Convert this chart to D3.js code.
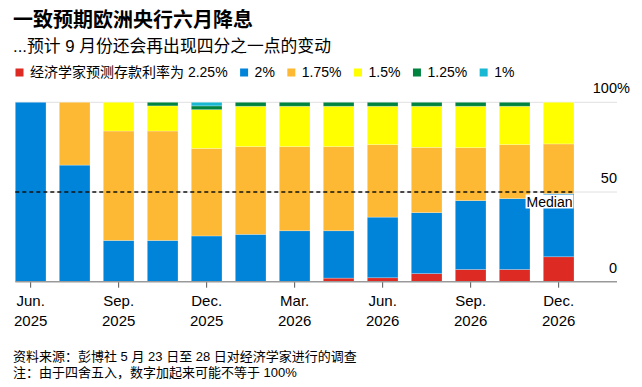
<!DOCTYPE html>
<html>
<head>
<meta charset="utf-8">
<script src="https://cdn.jsdelivr.net/npm/d3@7"></script>
<style>
  body { margin: 0; background: #fff; }
  svg text { font-family: "Liberation Sans", "Noto Sans CJK SC", sans-serif; fill: #000; }
</style>
</head>
<body>
<svg width="642" height="387"></svg>
<script>
// ECB meetings covered by the survey
const meetings = ["Jun 2025", "Jul 2025", "Sep 2025", "Oct 2025", "Dec 2025", "Feb 2026", "Mar 2026",
    "Apr 2026", "Jun 2026", "Jul 2026", "Sep 2026", "Oct 2026", "Dec 2026"];

// share of economists (%) expecting each deposit rate, one array per rate
const rate225 = [0, 0, 0, 0, 0, 0, 0, 2, 2.2, 4.5, 6.8, 6.8, 13.9];
const rate200 = [100, 65, 23, 23, 25.5, 26.4, 28.4, 26.4, 33.8, 34, 38.4, 39.5, 35.2];
const rate175 = [0, 35, 61, 61, 48.8, 48.9, 46.9, 46.9, 40.4, 36.4, 29.5, 30.1, 27.7];
const rate150 = [0, 0, 16, 14, 21.6, 22.5, 22.5, 22.5, 21.4, 22.9, 23.1, 21.4, 23.2];
const rate125 = [0, 0, 0, 2, 2.1, 2.2, 2.2, 2.2, 2.2, 2.2, 2.2, 2.2, 0];
const rate100 = [0, 0, 0, 0, 2, 0, 0, 0, 0, 0, 0, 0, 0];

const rateKeys = ["2.25%", "2%", "1.75%", "1.5%", "1.25%", "1%"];
const legendLabels = ["经济学家预测存款利率为 2.25%", "2%", "1.75%", "1.5%", "1.25%", "1%"];
const colors = ["#dd2a22", "#0084d9", "#fdb933", "#ffff00", "#00833f", "#19b8d2"];

const tickMeetings = ["Jun 2025", "Sep 2025", "Dec 2025", "Mar 2026", "Jun 2026", "Sep 2026", "Dec 2026"];
const tickMonths = ["Jun.", "Sep.", "Dec.", "Mar.", "Jun.", "Sep.", "Dec."];
const tickYears = ["2025", "2025", "2025", "2026", "2026", "2026", "2026"];
const yTicks = [0, 50, 100];
const median = 50;

const title = "一致预期欧洲央行六月降息";
const subtitle = "...预计 9 月份还会再出现四分之一点的变动";
const notes = ["资料来源：彭博社 5 月 23 日至 28 日对经济学家进行的调查",
    "注：由于四舍五入，数字加起来可能不等于 100%"];

const svg = d3.select("svg");

// build the table for d3.stack
const series = [rate225, rate200, rate175, rate150, rate125, rate100];
const table = meetings.map((m, i) => {
    const row = { meeting: m };
    rateKeys.forEach((k, j) => { row[k] = series[j][i]; });
    return row;
});
const stacked = d3.stack().keys(rateKeys)(table);

const left = 15.3, right = 617;
const x = d3.scaleBand()
    .domain(meetings)
    .range([left, 574])
    .paddingInner(0.302)
    .paddingOuter(0);

const y = d3.scaleLinear()
    .domain([0, 100])
    .range([281.7, 102.3]);

const color = d3.scaleOrdinal().domain(rateKeys).range(colors);

// Titles
svg.append("text")
    .attr("x", 13).attr("y", 26.5)
    .style("font-size", "20px").style("font-weight", "bold")
    .text(title);

svg.append("text")
    .attr("x", 13).attr("y", 52)
    .style("font-size", "16.8px")
    .text(subtitle);

// Legend, laid out by measured text widths
const legend = svg.append("g").attr("transform", "translate(15.5,0)");
let lx = 0;
legendLabels.forEach((label, i) => {
    const g = legend.append("g").attr("transform", `translate(${lx},0)`);
    g.append("rect")
        .attr("x", 0).attr("y", 68.5)
        .attr("width", 8).attr("height", 8)
        .attr("fill", colors[i]);
    const t = g.append("text")
        .attr("x", 14.5).attr("y", 77)
        .style("font-size", "14px")
        .text(label);
    lx += 14.5 + t.node().getComputedTextLength() + 12.5;
});

// Gridlines and right axis labels
svg.append("g")
    .selectAll("line")
    .data(yTicks.filter(d => d > 0))
    .join("line")
    .attr("x1", left).attr("x2", right)
    .attr("y1", d => y(d)).attr("y2", d => y(d))
    .attr("stroke", "#e0e0e0").attr("stroke-width", 1);

const yLab = svg.append("g")
    .selectAll("text")
    .data(yTicks)
    .join("text")
    .attr("x", right).attr("y", d => y(d) - 9)
    .attr("text-anchor", "end")
    .style("font-size", "14.5px")
    .text(d => d);

svg.append("text")
    .attr("x", right).attr("y", y(100) - 9)
    .style("font-size", "14.5px")
    .text("%");

// Stacked bars
svg.append("g")
    .selectAll("g")
    .data(stacked)
    .join("g")
    .attr("fill", d => color(d.key))
    .selectAll("rect")
    .data(d => d.filter(p => p[1] - p[0] > 0))
    .join("rect")
    .attr("x", d => x(d.data.meeting))
    .attr("width", x.bandwidth())
    .attr("y", d => y(d[1]))
    .attr("height", d => y(d[0]) - y(d[1]))
    .attr("stroke", "#ffffff")
    .attr("stroke-opacity", 0.35)
    .attr("stroke-width", 0.7);

// Bottom axis
const xAxis = svg.append("g")
    .attr("transform", `translate(0,${y(0)})`)
    .call(d3.axisBottom(x).tickValues(tickMeetings).tickSize(6).tickSizeOuter(0).tickFormat(""));

xAxis.select(".domain").remove();
xAxis.selectAll(".tick line").attr("stroke", "#555");
xAxis.append("line")
    .attr("x1", left).attr("x2", right)
    .attr("stroke", "#999").attr("stroke-width", 1.5);

xAxis.selectAll(".tick").each(function(d, i) {
    const t = d3.select(this).append("text")
        .attr("text-anchor", "middle")
        .style("font-size", "15px")
        .attr("fill", "#000");
    t.append("tspan").attr("x", 0).attr("y", 24.5).text(tickMonths[i]);
    t.append("tspan").attr("x", 0).attr("y", 44.5).text(tickYears[i]);
});

// Median line and label
svg.append("line")
    .attr("x1", left).attr("x2", x.range()[1] - 1)
    .attr("y1", y(median)).attr("y2", y(median))
    .attr("stroke", "#111").attr("stroke-width", 1.5)
    .attr("stroke-dasharray", "4,3");

const medG = svg.append("g");
const medBg = medG.append("rect").attr("fill", "#fff");
const medText = medG.append("text")
    .attr("x", x.range()[1] - 1.5).attr("y", 206.5)
    .attr("text-anchor", "end")
    .style("font-size", "14px")
    .text("Median");
const bb = medText.node().getBBox();
medBg.attr("x", bb.x - 1).attr("y", bb.y + 1)
    .attr("width", bb.width + 2).attr("height", bb.height - 2);

// Footnotes
svg.append("g")
    .selectAll("text")
    .data(notes)
    .join("text")
    .attr("x", 13).attr("y", (d, i) => 361 + i * 15.5)
    .style("font-size", "13px")
    .text(d => d);
</script>
</body>
</html>
